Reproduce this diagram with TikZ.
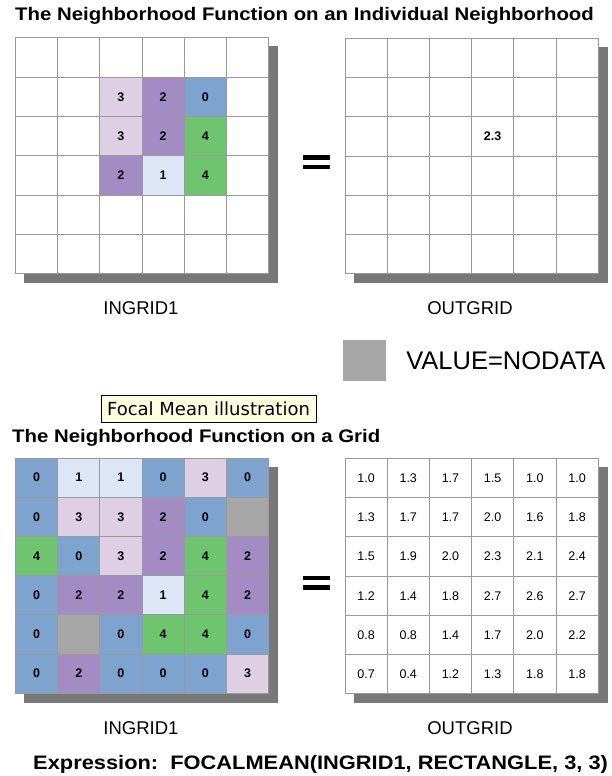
\documentclass[tikz,border=0pt]{standalone}
\usepackage{fontspec}
\setmainfont{Liberation Sans}
\newfontfamily\headfont{Liberation Sans}[FakeStretch=1.12]
\newfontfamily\tipfont{DejaVu Sans}
\usetikzlibrary{positioning,backgrounds}
\definecolor{cellblue}{HTML}{7FA3CF}
\definecolor{celllight}{HTML}{DCE6F6}
\definecolor{cellpurple}{HTML}{A38CC4}
\definecolor{celllav}{HTML}{DFCFE5}
\definecolor{cellgreen}{HTML}{6FC46F}
\definecolor{nodatagray}{HTML}{A6A6A6}
\definecolor{shadegray}{HTML}{787878}
\definecolor{gridgray}{HTML}{9A9A9A}
\definecolor{tipyellow}{HTML}{FFFFE1}
\tikzset{
  % rasterzellen
  cell/.style={draw=gridgray,fill=white,line width=0.9pt,anchor=north west,inner sep=0pt,
               minimum width=42.2pt,minimum height=39.3pt,
               font=\fontsize{12.5}{14}\selectfont\bfseries},
  outcell/.style={cell,font=\fontsize{12.5}{14}\selectfont},
  v0/.style={fill=cellblue},
  v1/.style={fill=celllight},
  v2/.style={fill=cellpurple},
  v3/.style={fill=celllav},
  v4/.style={fill=cellgreen},
  vn/.style={fill=nodatagray},
  ve/.style={fill=white},
  gshadow/.style={fill=shadegray},
  eqsign/.style={minimum width=27pt,minimum height=14pt,inner sep=0pt,
    path picture={
      \fill (path picture bounding box.north west) rectangle ([yshift=-4.5pt]path picture bounding box.north east);
      \fill ([yshift=4.5pt]path picture bounding box.south west) rectangle (path picture bounding box.south east);}},
  % texte
  heading/.style={anchor=base west,inner sep=0pt,font=\headfont\fontsize{18.2}{20}\selectfont\bfseries},
  gridlabel/.style={inner sep=0pt,font=\fontsize{18.5}{20}\selectfont},
  ndkey/.style={fill=nodatagray,minimum width=42.5pt,minimum height=41pt,inner sep=0pt},
  keytext/.style={inner sep=0pt,font=\fontsize{25.5}{27}\selectfont},
  tip/.style={draw=black,fill=tipyellow,line width=0.8pt,minimum width=215pt,
              minimum height=27pt,inner sep=0pt,font=\tipfont\fontsize{18}{20}\selectfont},
}
\newcommand\cellnum[1]{\expandafter\cellnumx\expandafter{#1}}
\newcommand\cellnumx[1]{\ifx e#1\else\ifx n#1\else#1\fi\fi}

\begin{document}
\begin{tikzpicture}[x=1pt,y=-1pt]
  \useasboundingbox (0,0) rectangle (611,776);
  \node[heading] (title1) at (15,21) {The Neighborhood Function on an Individual Neighborhood};
  % eine nachbarschaft
  \foreach \row [count=\r from 0] in {{e,e,e,e,e,e},{e,e,3,2,0,e},{e,e,3,2,4,e},
                                      {e,e,2,1,4,e},{e,e,e,e,e,e},{e,e,e,e,e,e}}
    \foreach \v [count=\c from 0] in \row
      \node[cell,v\v] (a-\r-\c) at ({15+42.2*\c},{37.5+39.3*\r}) {\cellnum\v};
  \node[eqsign] (eq1) at (316.5,162) {};
  \foreach \row [count=\r from 0] in {{e,e,e,e,e,e},{e,e,e,e,e,e},{e,e,e,2.3,e,e},
                                      {e,e,e,e,e,e},{e,e,e,e,e,e},{e,e,e,e,e,e}}
    \foreach \v [count=\c from 0] in \row
      \node[cell] (b-\r-\c) at ({344.5+42.2*\c},{38+39.2*\r}) {\cellnum\v};
  \node[gridlabel] (lab-a) at (141,308) {INGRID1};
  \node[gridlabel] (lab-b) at (470,308) {OUTGRID};
  % legende
  \node[ndkey] (ndkey) at (364.7,360.5) {};
  \node[keytext,right=20pt of ndkey] (ndtext) {VALUE=NODATA};
  \node[tip] (tip) at (208.5,408.5) {Focal Mean illustration};
  \node[heading] (title2) at (12,442) {The Neighborhood Function on a Grid};
  % ganzes raster
  \foreach \row [count=\r from 0] in {{0,1,1,0,3,0},{0,3,3,2,0,n},{4,0,3,2,4,2},
                                      {0,2,2,1,4,2},{0,n,0,4,4,0},{0,2,0,0,0,3}}
    \foreach \v [count=\c from 0] in \row
      \node[cell,v\v] (c-\r-\c) at ({15+42.2*\c},{457.5+39.2*\r}) {\cellnum\v};
  \node[eqsign] (eq2) at (316.5,582.5) {};
  \foreach \row [count=\r from 0] in {{1.0,1.3,1.7,1.5,1.0,1.0},{1.3,1.7,1.7,2.0,1.6,1.8},
                                      {1.5,1.9,2.0,2.3,2.1,2.4},{1.2,1.4,1.8,2.7,2.6,2.7},
                                      {0.8,0.8,1.4,1.7,2.0,2.2},{0.7,0.4,1.2,1.3,1.8,1.8}}
    \foreach \v [count=\c from 0] in \row
      \node[outcell] (d-\r-\c) at ({344.5+42.2*\c},{458+39.2*\r}) {\v};
  \node[gridlabel] (lab-c) at (141,728.5) {INGRID1};
  \node[gridlabel] (lab-d) at (470,728.5) {OUTGRID};
  \node[heading,font=\headfont\fontsize{19.5}{21}\selectfont\bfseries] (expr) at (33,769)
    {Expression:~~FOCALMEAN(INGRID1, RECTANGLE, 3, 3)};
  \begin{scope}[on background layer]
  \fill[white] (0,0) rectangle (611,776);
  \fill[gshadow] ([shift={(9,9)}]a-0-0.north west) rectangle ([shift={(9,9)}]a-5-5.south east);
  \fill[gshadow] ([shift={(9,9)}]b-0-0.north west) rectangle ([shift={(9,9)}]b-5-5.south east);
  \fill[gshadow] ([shift={(9,9)}]c-0-0.north west) rectangle ([shift={(9,9)}]c-5-5.south east);
  \fill[gshadow] ([shift={(9,9)}]d-0-0.north west) rectangle ([shift={(9,9)}]d-5-5.south east);
  \end{scope}
\end{tikzpicture}
\end{document}
